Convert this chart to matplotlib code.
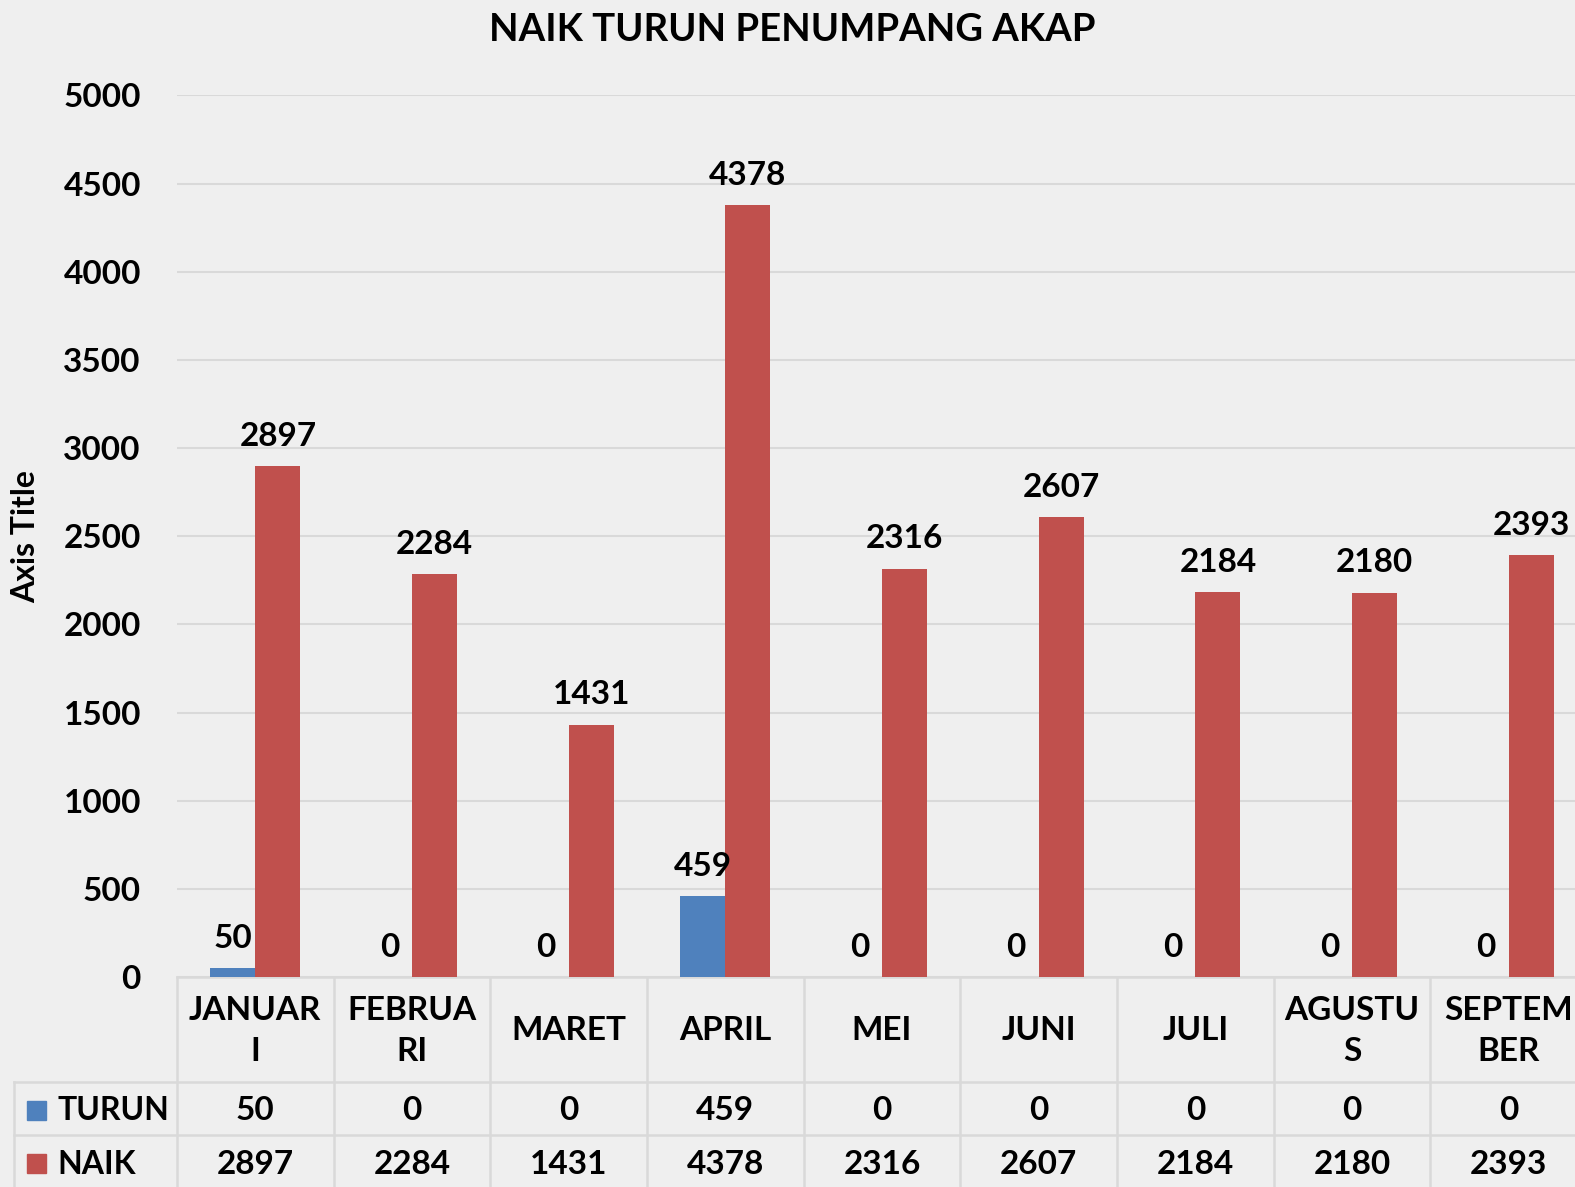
import matplotlib
matplotlib.use("Agg")
import matplotlib.pyplot as plt
from matplotlib.transforms import blended_transform_factory
from matplotlib.patches import Rectangle
import numpy as np

# ---- data ----
months = ["JANUARI", "FEBRUARI", "MARET", "APRIL", "MEI", "JUNI", "JULI", "AGUSTUS", "SEPTEMBER"]
month_labels = ["JANUAR\nI", "FEBRUA\nRI", "MARET", "APRIL", "MEI", "JUNI", "JULI", "AGUSTU\nS", "SEPTEM\nBER"]
turun = [50, 0, 0, 459, 0, 0, 0, 0, 0]
naik = [2897, 2284, 1431, 4378, 2316, 2607, 2184, 2180, 2393]
series_names = ["TURUN", "NAIK"]
y_ticks = [0, 500, 1000, 1500, 2000, 2500, 3000, 3500, 4000, 4500, 5000]

BLUE = "#4F81BD"
RED = "#C0504D"
BG = "#EFEFEF"
GRID = "#D9D9D9"
FONT = "Lato"
FS = 24

W, H = 1575, 1187
plt.rcParams["font.family"] = [FONT, "DejaVu Sans"]
plt.rcParams["font.weight"] = "bold"

fig = plt.figure(figsize=(W / 100, H / 100), dpi=100, facecolor=BG)

def fx(px):
    return px / W

def fy(py):
    return 1 - py / H

ax_left, ax_right = 177, 1587
ax_top, ax_bot = 95.4, 977
ax = fig.add_axes([fx(ax_left), fy(ax_bot), (ax_right - ax_left) / W, (ax_bot - ax_top) / H])
ax.set_facecolor(BG)

n = len(months)
x = np.arange(n)
bw = 0.288
b1 = ax.bar(x - bw / 2, turun, bw, color=BLUE, zorder=3)
b2 = ax.bar(x + bw / 2, naik, bw, color=RED, zorder=3)

ax.set_xlim(-0.5, n - 0.5)
ax.set_ylim(0, 5000)
ax.set_yticks(y_ticks)
ax.set_yticklabels([str(t) for t in y_ticks], fontsize=FS, fontweight="bold")
ax.tick_params(axis="y", length=0, pad=26)
ax.set_xticks([])
ax.yaxis.grid(True, color=GRID, linewidth=1.5, zorder=0)
for s in ax.spines.values():
    s.set_visible(False)

for bars, vals in ((b1, turun), (b2, naik)):
    for rect, v in zip(bars, vals):
        ax.annotate(str(v), (rect.get_x() + rect.get_width() / 2, v),
                    xytext=(0, 11), textcoords="offset points",
                    ha="center", va="bottom", fontsize=FS, fontweight="bold", zorder=4)

# title & axis title
fig.text(fx(792), fy(30), "NAIK TURUN PENUMPANG AKAP", ha="center", va="center",
         fontsize=27.5, fontweight="bold")
fig.text(fx(26), fy(537), "Axis Title", rotation=90, ha="center", va="center",
         fontsize=23, fontweight="bold")

# ---- data table ----
tr = blended_transform_factory(ax.transData, fig.transFigure)
lw = 1.8
y_row1, y_row2, y_bottom = 1082, 1135, H + 5
# horizontal lines
ax.plot([-0.5, n - 0.5], [fy(ax_bot)] * 2, transform=tr, color=GRID, lw=lw, clip_on=False, zorder=1)
for yy in (y_row1, y_row2):
    fig.add_artist(plt.Line2D([fx(14), 1.0], [fy(yy)] * 2, color=GRID, lw=lw))
# vertical lines
for i in range(n + 1):
    ax.plot([i - 0.5, i - 0.5], [fy(ax_bot), fy(y_bottom)], transform=tr, color=GRID, lw=lw,
            clip_on=False, zorder=1)
fig.add_artist(plt.Line2D([fx(14), fx(14)], [fy(y_row1), fy(y_bottom)], color=GRID, lw=lw))

# header texts
for i, lab in enumerate(month_labels):
    ax.text(i, fy(1031), lab, transform=tr, ha="center", va="center", fontsize=FS,
            fontweight="bold", linespacing=1.5, clip_on=False)
# value rows
row_ys = [1110.5, 1164]
for vals, yy in zip((turun, naik), row_ys):
    for i, v in enumerate(vals):
        ax.text(i, fy(yy), str(v), transform=tr, ha="center", va="center", fontsize=FS,
                fontweight="bold", clip_on=False)
# legend keys
for name, col, yy in zip(series_names, (BLUE, RED), row_ys):
    fig.add_artist(Rectangle((fx(27), fy(yy + 9)), 19 / W, 19 / H, transform=fig.transFigure,
                             color=col))
    fig.text(fx(57), fy(yy), name, ha="left", va="center", fontsize=23, fontweight="bold")

fig.savefig("out.png", dpi=100, facecolor=BG)
